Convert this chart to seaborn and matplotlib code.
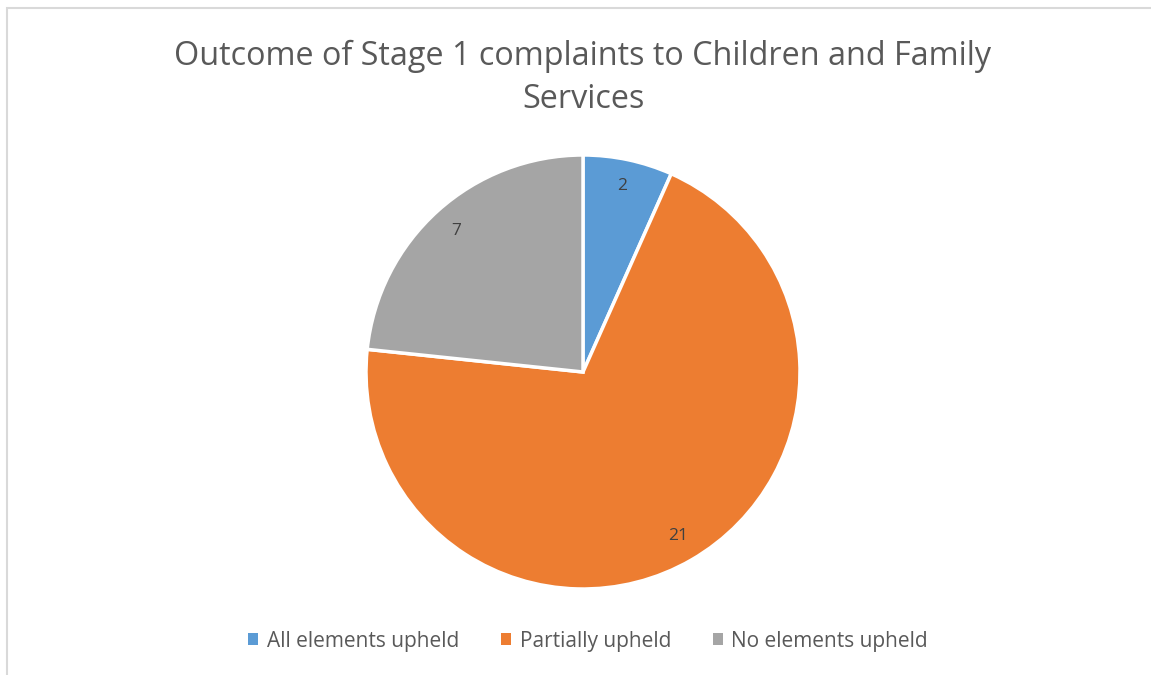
import matplotlib
matplotlib.use("Agg")
import matplotlib.pyplot as plt
import seaborn as sns
from matplotlib.patches import Rectangle, Patch

categories = ["All elements upheld", "Partially upheld", "No elements upheld"]
counts = [2, 21, 7]
colors = ["#5B9BD5", "#ED7D31", "#A5A5A5"]

sns.set_theme(style="white")
plt.rcParams["font.family"] = ["Open Sans", "DejaVu Sans"]
text_col = "#595959"

fig = plt.figure(figsize=(11.51, 6.75), dpi=100)

# outer chart border (cut off at right and bottom like the original)
fig.patches.append(Rectangle((7 / 1151, -0.05), 1.1, 1 - 8 / 675 + 0.05,
                             transform=fig.transFigure, fill=False,
                             edgecolor="#D9D9D9", linewidth=1.5))

ax = fig.add_axes([366 / 1151, 86 / 675, 434 / 1151, 434 / 675])
wedges, texts = ax.pie(counts, colors=colors, startangle=90, counterclock=False,
                       labels=[str(c) for c in counts], labeldistance=0.875,
                       wedgeprops=dict(edgecolor="white", linewidth=2.5),
                       textprops=dict(color="#404040", fontsize=12.5))
for t in texts:
    t.set_horizontalalignment("center")
    t.set_verticalalignment("center")
ax.set_xlim(-1, 1)
ax.set_ylim(-1, 1)
ax.set_aspect("equal")
ax.axis("off")

fig.text(583 / 1151, 1 - 78 / 675,
         "Outcome of Stage 1 complaints to Children and Family\nServices",
         ha="center", va="center", fontsize=23.3, color=text_col, linespacing=1.42)

handles = [Patch(facecolor=c, edgecolor="none") for c in colors]
fig.legend(handles, categories, loc="center", bbox_to_anchor=(588 / 1151, 1 - 641 / 675),
           ncol=3, frameon=False, fontsize=15, labelcolor=text_col,
           handlelength=0.5, handleheight=0.5, handletextpad=0.4, columnspacing=2.0)

fig.savefig("out.png", dpi=100)
